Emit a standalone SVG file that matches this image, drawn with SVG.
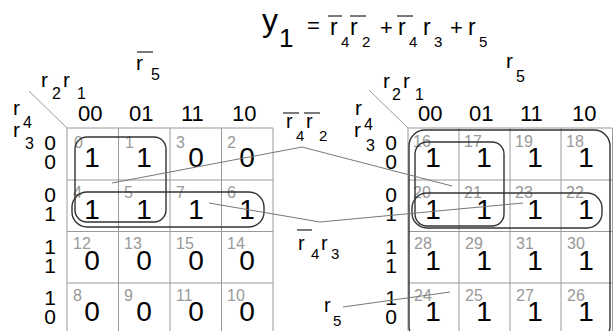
<svg xmlns="http://www.w3.org/2000/svg" width="614" height="331" viewBox="0 0 614 331">
<style>
text{font-family:"Liberation Sans",Arial,sans-serif;fill:#000}
.grid{stroke:#9a9a9a;stroke-width:1;fill:none}
.grp{stroke:#333;stroke-width:1.4;fill:none}
.con{stroke:#777;stroke-width:1;fill:none}
.bar{stroke:#222;stroke-width:1.2}
.num{font-size:16px;fill:#999}
.val{font-size:28px;text-anchor:middle}
.hdr{font-size:22px}
.row{font-size:21px;text-anchor:middle}
.var{font-size:21px}
.sub{font-size:16px}
.t{font-size:23px}
.ts{font-size:15px}
.m{font-size:20px}
.ms{font-size:15px}
</style>
<rect width="614" height="331" fill="#fff"/>

<g id="title">
<text x="262" y="31" style="font-size:32px">y</text>
<text x="279" y="47" style="font-size:26px">1</text>
<text x="307" y="33" style="font-size:22px">=</text>
<line class="bar" x1="328" y1="16" x2="342" y2="16"/>
<text class="t" x="330" y="35">r</text><text class="ts" x="341" y="47">4</text>
<line class="bar" x1="350" y1="16" x2="366" y2="16"/>
<text class="t" x="350" y="35">r</text><text class="ts" x="362" y="47">2</text>
<text x="380" y="35" style="font-size:22px">+</text>
<line class="bar" x1="397" y1="16" x2="413" y2="16"/>
<text class="t" x="398" y="35">r</text><text class="ts" x="409" y="47">4</text>
<text class="t" x="423" y="35">r</text><text class="ts" x="434" y="47">3</text>
<text x="450" y="35" style="font-size:22px">+</text>
<text class="t" x="468" y="35">r</text><text class="ts" x="479" y="47">5</text>
</g>

<g id="kmap-left">
<line class="bar" x1="137" y1="52" x2="153" y2="52"/>
<text class="var" x="136" y="70">r</text><text class="sub" x="151" y="80">5</text>
<text class="var" x="41" y="87">r</text><text class="sub" x="52" y="99">2</text>
<text class="var" x="63" y="87">r</text><text class="sub" x="77" y="99">1</text>
<line class="grid" x1="29" y1="91" x2="67" y2="128"/>
<text class="var" x="13" y="115">r</text><text class="sub" x="23" y="128">4</text>
<text class="var" x="13" y="137">r</text><text class="sub" x="25" y="149">3</text>
<text class="hdr" x="78" y="121">00</text>
<text class="hdr" x="129" y="121">01</text>
<text class="hdr" x="181" y="121">11</text>
<text class="hdr" x="232" y="121">10</text>
<text class="row" x="50" y="150">0</text><text class="row" x="50" y="169">0</text>
<text class="row" x="50" y="202">0</text><text class="row" x="50" y="221">1</text>
<text class="row" x="50" y="254">1</text><text class="row" x="50" y="273">1</text>
<text class="row" x="50" y="305">1</text><text class="row" x="50" y="324">0</text>
<path class="grid" d="M67 128H273M67 180H273M67 231.5H273M67 283H273M67 335H273M67 128V335M118.5 128V335M170 128V335M221.5 128V335M273 128V335"/>
<text class="num" x="74" y="148">0</text><text class="num" x="125" y="148">1</text><text class="num" x="176" y="148">3</text><text class="num" x="227" y="148">2</text>
<text class="num" x="73" y="198">4</text><text class="num" x="124" y="198">5</text><text class="num" x="176" y="198">7</text><text class="num" x="227" y="198">6</text>
<text class="num" x="73" y="249">12</text><text class="num" x="124" y="249">13</text><text class="num" x="176" y="249">15</text><text class="num" x="227" y="249">14</text>
<text class="num" x="73" y="301">8</text><text class="num" x="124" y="301">9</text><text class="num" x="176" y="301">11</text><text class="num" x="227" y="301">10</text>
<text class="val" x="92" y="167">1</text><text class="val" x="144" y="167">1</text><text class="val" x="196" y="167">0</text><text class="val" x="247" y="167">0</text>
<text class="val" x="92" y="219">1</text><text class="val" x="144" y="219">1</text><text class="val" x="196" y="219">1</text><text class="val" x="247" y="219">1</text>
<text class="val" x="92" y="270">0</text><text class="val" x="144" y="270">0</text><text class="val" x="196" y="270">0</text><text class="val" x="247" y="270">0</text>
<text class="val" x="92" y="321">0</text><text class="val" x="144" y="321">0</text><text class="val" x="196" y="321">0</text><text class="val" x="247" y="321">0</text>
<rect class="grp" x="75" y="137" width="91" height="85" rx="12"/>
<rect class="grp" x="72" y="192" width="192" height="35" rx="15"/>
</g>

<g id="kmap-right">
<text class="var" x="506" y="68">r</text><text class="sub" x="516" y="82">5</text>
<text class="var" x="383" y="88">r</text><text class="sub" x="392" y="100">2</text>
<text class="var" x="403" y="88">r</text><text class="sub" x="415" y="100">1</text>
<line class="grid" x1="369" y1="90" x2="408" y2="128"/>
<text class="var" x="355" y="115">r</text><text class="sub" x="364" y="130">4</text>
<text class="var" x="354" y="137">r</text><text class="sub" x="366" y="151">3</text>
<text class="hdr" x="418" y="121">00</text>
<text class="hdr" x="469" y="121">01</text>
<text class="hdr" x="520" y="121">11</text>
<text class="hdr" x="572" y="121">10</text>
<text class="row" x="391" y="150">0</text><text class="row" x="391" y="169">0</text>
<text class="row" x="391" y="202">0</text><text class="row" x="391" y="221">1</text>
<text class="row" x="391" y="254">1</text><text class="row" x="391" y="273">1</text>
<text class="row" x="391" y="305">1</text><text class="row" x="391" y="324">0</text>
<path class="grid" d="M408 128H612.5M408 180H612.5M408 231.5H612.5M408 283H612.5M408 335H612.5M408 128V335M459 128V335M510 128V335M561 128V335M612.5 128V335"/>
<text class="num" x="413" y="147">16</text><text class="num" x="464" y="147">17</text><text class="num" x="515" y="147">19</text><text class="num" x="566" y="147">18</text>
<text class="num" x="413" y="198">20</text><text class="num" x="464" y="198">21</text><text class="num" x="515" y="198">23</text><text class="num" x="566" y="198">22</text>
<text class="num" x="414" y="249">28</text><text class="num" x="465" y="249">29</text><text class="num" x="516" y="249">31</text><text class="num" x="567" y="249">30</text>
<text class="num" x="414" y="301">24</text><text class="num" x="465" y="301">25</text><text class="num" x="516" y="301">27</text><text class="num" x="567" y="301">26</text>
<text class="val" x="433" y="167">1</text><text class="val" x="484" y="167">1</text><text class="val" x="535" y="167">1</text><text class="val" x="586" y="167">1</text>
<text class="val" x="433" y="219">1</text><text class="val" x="484" y="219">1</text><text class="val" x="535" y="219">1</text><text class="val" x="586" y="219">1</text>
<text class="val" x="433" y="270">1</text><text class="val" x="484" y="270">1</text><text class="val" x="535" y="270">1</text><text class="val" x="586" y="270">1</text>
<text class="val" x="433" y="321">1</text><text class="val" x="484" y="321">1</text><text class="val" x="535" y="321">1</text><text class="val" x="586" y="321">1</text>
<rect class="grp" x="409" y="130" width="201" height="212" rx="16"/>
<rect class="grp" x="415" y="142" width="89" height="84" rx="12"/>
<rect class="grp" x="412" y="193" width="190" height="35" rx="15"/>
</g>

<g id="term-r4r2">
<line class="bar" x1="283" y1="113" x2="299" y2="113"/>
<line class="bar" x1="304" y1="113" x2="320" y2="113"/>
<text class="m" x="286" y="128">r</text><text class="ms" x="296" y="141">4</text>
<text class="m" x="306" y="128">r</text><text class="ms" x="319" y="141">2</text>
</g>
<g id="term-r4r3">
<line class="bar" x1="297" y1="230" x2="312" y2="230"/>
<text class="m" x="298" y="250">r</text><text class="ms" x="311" y="259">4</text>
<text class="m" x="321" y="250">r</text><text class="ms" x="331" y="259">3</text>
</g>
<g id="term-r5">
<text class="m" x="324" y="312">r</text><text class="ms" x="333" y="326">5</text>
</g>

<g id="connectors">
<polyline class="con" points="112,183 302,147 452,186"/>
<polyline class="con" points="209,203 320,222 523,203"/>
<line class="con" x1="343" y1="307" x2="450" y2="292"/>
</g>
</svg>
